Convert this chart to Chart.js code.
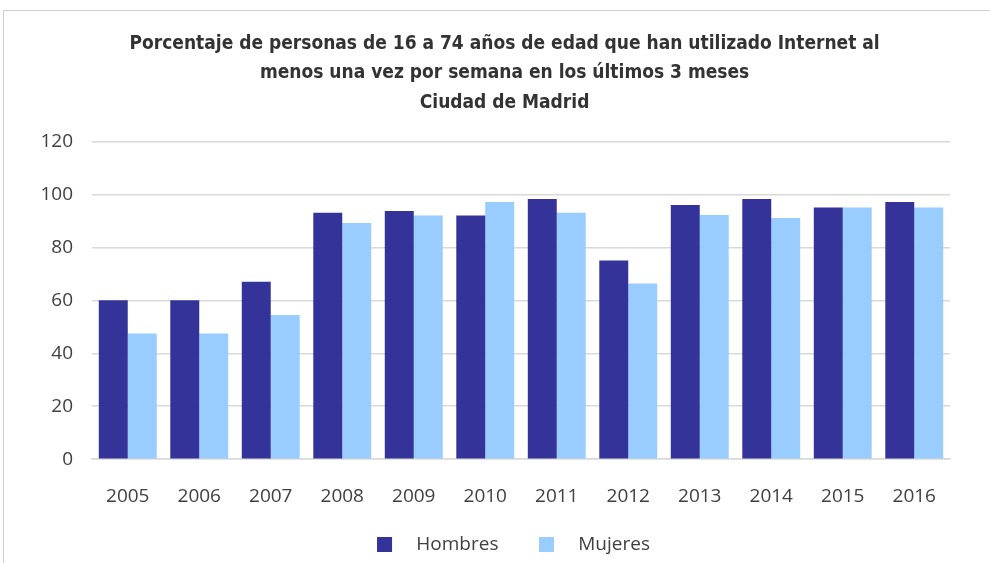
<!DOCTYPE html>
<html><head><meta charset="utf-8">
<script src="https://cdn.jsdelivr.net/npm/chart.js@4/dist/chart.umd.min.js"></script>
<style>
html,body{margin:0;padding:0;background:#fff;overflow:hidden;}
#wrap{position:absolute;left:0;top:0;width:990px;height:563px;}
#frame{position:absolute;left:3px;top:10px;width:1000px;height:600px;border:1px solid #d0d0d0;box-sizing:border-box;}
</style></head><body>
<div id="frame"></div>
<div id="wrap"><canvas id="c" width="990" height="563"></canvas></div>
<script>
const categories = ['2005','2006','2007','2008','2009','2010','2011','2012','2013','2014','2015','2016'];
const hombres = [60, 60, 67, 93, 93.7, 92, 98.2, 75, 96, 98.2, 95, 97.1];
const mujeres = [47.5, 47.5, 54.4, 89.2, 92, 97.1, 93, 66.3, 92.2, 91.1, 95, 95];
const yTicks = [0, 20, 40, 60, 80, 100, 120];
const titleLines = ['Porcentaje de personas de 16 a 74 años de edad que han utilizado Internet al', 'menos una vez por semana en los últimos 3 meses', 'Ciudad de Madrid'];

new Chart(document.getElementById('c'), {
  type: 'bar',
  data: {
    labels: categories,
    datasets: [
      {label: 'Hombres', data: hombres, backgroundColor: '#333399', borderWidth: 0},
      {label: 'Mujeres', data: mujeres, backgroundColor: '#99ccff', borderWidth: 0}
    ]
  },
  options: {
    responsive: false,
    animation: false,
    devicePixelRatio: 1,
    layout: {padding: {left: 37, right: 0, top: 29, bottom: -1}},
    datasets: {bar: {categoryPercentage: 0.81, barPercentage: 1.0}},
    plugins: {
      title: {
        display: true,
        text: titleLines.map(t => t + '   '),
        color: '#333333',
        font: {family: '"DejaVu Sans Condensed", "Open Sans", sans-serif', size: 19, weight: 'bold', lineHeight: 1.55},
        padding: {top: 0, bottom: 24}
      },
      legend: {
        position: 'bottom',
        labels: {
          color: '#404040',
          font: {family: '"Open Sans", sans-serif', size: 19},
          boxWidth: 15, boxHeight: 15, padding: 1,
          generateLabels: (chart) => {
            const items = Chart.defaults.plugins.legend.labels.generateLabels(chart);
            items[0].text = '   ' + items[0].text + '        ';
            items[1].text = '   ' + items[1].text;
            return items;
          }
        }
      },
      tooltip: {enabled: false}
    },
    scales: {
      x: {
        grid: {display: false, drawTicks: false},
        border: {display: true, color: '#d9d9d9', width: 1.5},
        ticks: {color: '#404040', font: {family: '"Open Sans", sans-serif', size: 19}, padding: 26}
      },
      y: {
        min: 0, max: 120,
        afterBuildTicks: (axis) => { axis.ticks = yTicks.map(v => ({value: v})); },
        afterFit: (axis) => { axis.width = 55; },
        grid: {color: '#d9d9d9', lineWidth: 1.5, drawTicks: false},
        border: {display: false},
        ticks: {color: '#404040', font: {family: '"Open Sans", sans-serif', size: 19}, padding: 19}
      },
      yr: {
        position: 'right', display: true,
        grid: {display: false, drawTicks: false},
        border: {display: false},
        ticks: {display: false},
        afterFit: (axis) => { axis.width = 40; }
      }
    }
  }
});
</script>
</body></html>
